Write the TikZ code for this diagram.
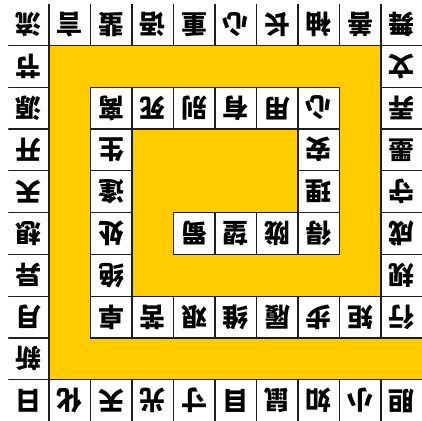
\documentclass[tikz,border=0pt]{standalone}
\usepackage{fontspec}
\newfontfamily\cjk{Noto Sans CJK SC}
\definecolor{bandyellow}{RGB}{255,204,0}
\definecolor{gridline}{RGB}{30,30,30}
\tikzset{
  cell/.style={draw=gridline, line width=1.2pt, fill=white,
    minimum width=41.5pt, minimum height=41.8pt, inner sep=0pt,
    rotate=180, font=\cjk\bfseries\fontsize{26}{26}\selectfont},
}
\begin{document}
\begin{tikzpicture}[x=1pt,y=-1pt]
\useasboundingbox (0,0) rectangle (422,420);
\fill[white] (0,0) rectangle (422,420);
\fill[bandyellow] (49,45.3) rectangle (423,379.7);
\begin{scope}
\clip (8.3,4.3) rectangle (423,421);
\foreach \r/\c/\t/\n in {
 9/9/胆/q0, 9/8/小/q1, 9/7/如/q2, 9/6/鼠/q3, 9/5/目/q4, 9/4/寸/q5, 9/3/光/q6, 9/2/天/q7, 9/1/化/q8, 9/0/日/q9,
 8/0/新/q10, 7/0/月/q11, 6/0/异/q12, 5/0/想/q13, 4/0/天/q14, 3/0/开/q15, 2/0/源/q16, 1/0/节/q17, 0/0/流/q18,
 0/1/言/q19, 0/2/蜚/q20, 0/3/语/q21, 0/4/重/q22, 0/5/心/q23, 0/6/长/q24, 0/7/袖/q25, 0/8/善/q26, 0/9/舞/q27,
 1/9/文/q28, 2/9/弄/q29, 3/9/墨/q30, 4/9/守/q31, 5/9/成/q32, 6/9/规/q33, 7/9/行/q34,
 7/8/矩/q35, 7/7/步/q36, 7/6/履/q37, 7/5/维/q38, 7/4/艰/q39, 7/3/苦/q40, 7/2/卓/q41,
 6/2/绝/q42, 5/2/处/q43, 4/2/逢/q44, 3/2/生/q45, 2/2/离/q46,
 2/3/死/q47, 2/4/别/q48, 2/5/有/q49, 2/6/用/q50, 2/7/心/q51,
 3/7/安/q52, 4/7/理/q53, 5/7/得/q54,
 5/6/陇/q55, 5/5/望/q56, 5/4/蜀/q57}
{
  \node[cell] (\n) at ({7.5+41.5*(\c+0.5)},{3.5+41.8*(\r+0.5)}) {\t};
}
\end{scope}
\end{tikzpicture}
\end{document}
